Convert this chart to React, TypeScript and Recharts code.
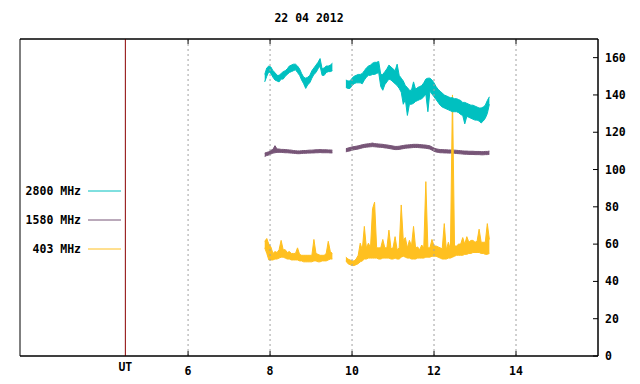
import { ComposedChart, Area, XAxis, YAxis, ReferenceLine, ReferenceArea } from 'recharts';

const FONT = '"DejaVu Sans Mono", "Liberation Mono", monospace';

const title = '22 04 2012';

// two observing runs, sampled every 0.05 h (UT)
const runStarts = [7.87, 9.85];
const sampleStep = 0.05;

const xDomain = [1.9, 16];
const yDomain = [0, 170];
const xTicks = [6, 8, 10, 12, 14];
const yTicks = [0, 20, 40, 60, 80, 100, 120, 140, 160];
const utMark = 4.47;

// each series: lower and upper edge of the noisy trace, per run

// 2800 MHz
const mhz2800loA = [
  147, 150, 152.5, 151.5, 149.5, 148, 147.5, 147, 148.5, 148.5,
  150, 151, 152, 152.5, 153, 153.5, 152, 150.5, 148, 146,
  143.5, 145.5, 146.5, 149, 151, 152, 154, 155.5, 150.5, 150.5,
  152, 152.5, 152.5, 153,
];
const mhz2800hiA = [
  151, 154.5, 155.5, 155, 153, 152, 150.5, 150.5, 151.5, 152.5,
  153, 154, 155.5, 156, 156.5, 156.5, 155.5, 154, 151.5, 149.5,
  149, 149.5, 150.5, 153, 154.5, 156, 157.5, 159.5, 154, 154.5,
  155.5, 155.5, 156, 157,
];
const mhz2800loB = [
  144, 143.5, 143.5, 145, 146, 146.5, 146.5, 146.5, 146, 148,
  149.5, 150.5, 150.5, 151, 151, 151.5, 152, 144.5, 142.5, 145.5,
  147, 148.5, 148, 147, 146, 145, 143.5, 141.5, 135, 137.5,
  129, 135, 135, 135.5, 136.5, 137, 137.5, 138, 139, 140.5,
  131, 142, 140.5, 139, 137.5, 136, 134.5, 133.5, 133, 132.5,
  132, 131.5, 131, 131, 131, 130.5, 129.5, 129, 124.5, 128.5,
  128, 127.5, 127, 126.5, 126.5, 126, 125, 126, 127.5, 130,
  135,
];
const mhz2800hiB = [
  148, 147.5, 147.5, 149, 150, 150.5, 151, 151, 151.5, 153,
  154.5, 155.5, 156, 157, 157.5, 157.5, 158, 151, 151, 152.5,
  154, 156, 155, 154, 153, 156.5, 150.5, 149, 147.5, 145,
  144, 142.5, 142.5, 147, 143, 144, 144.5, 145, 146.5, 148.5,
  149, 149, 148, 146.5, 144.5, 143, 142, 141, 140, 139.5,
  139, 138.5, 138.5, 138, 138, 137.5, 137, 136, 136, 135.5,
  135, 134.5, 134.5, 134, 133.5, 133, 133, 133.5, 134.5, 137,
  139,
];

// 1580 MHz
const mhz1580loA = [
  107, 107.5, 107.8, 108.3, 108.8, 109, 109.2, 109.2, 109.2, 109.1,
  109, 109, 108.9, 108.8, 108.7, 108.6, 108.5, 108.5, 108.6, 108.7,
  108.7, 108.8, 108.8, 108.9, 108.9, 109, 109, 109.1, 109, 109,
  109, 109, 108.9, 108.9,
];
const mhz1580hiA = [
  108.8, 109.2, 109.5, 110.3, 110.8, 112.8, 111, 111, 110.8, 110.8,
  110.7, 110.6, 110.5, 110.4, 110.2, 110.1, 110, 110, 110.1, 110.2,
  110.2, 110.3, 110.4, 110.4, 110.5, 110.6, 110.6, 110.7, 110.6, 110.6,
  110.6, 110.5, 110.5, 110.4,
];
const mhz1580loB = [
  109.5, 109.8, 110, 110.4, 110.6, 110.8, 111, 111.3, 111.6, 111.8,
  112, 112.1, 112.2, 112.3, 112.2, 112.1, 112, 111.9, 111.8, 111.6,
  111.5, 111.3, 111.1, 110.9, 110.7, 110.7, 110.8, 111, 111.2, 111.4,
  111.5, 111.6, 111.7, 111.8, 111.8, 111.8, 111.7, 111.6, 111.5, 111.4,
  111.2, 111, 110.4, 109.8, 109.4, 109.2, 109, 109, 108.9, 108.9,
  108.8, 108.8, 108.7, 108.7, 108.6, 108.5, 108.4, 108.3, 108.2, 108.2,
  108.1, 108.1, 108.1, 108, 108, 108, 107.9, 107.9, 108, 108,
  108.2,
];
const mhz1580hiB = [
  111.2, 111.5, 111.8, 112.1, 112.3, 112.5, 112.7, 113, 113.3, 113.5,
  113.7, 113.8, 114, 114.2, 113.9, 113.8, 113.7, 113.6, 113.5, 113.3,
  113.2, 113, 112.8, 112.6, 112.4, 112.4, 112.5, 112.7, 112.9, 113.1,
  113.2, 113.3, 113.4, 113.5, 113.5, 113.5, 113.4, 113.3, 113.2, 113.1,
  112.9, 112.7, 112.1, 111.5, 111.1, 110.9, 110.7, 110.7, 110.6, 110.6,
  110.5, 110.5, 110.4, 110.4, 110.3, 110.2, 110.1, 110, 109.9, 109.9,
  109.8, 109.8, 109.8, 109.7, 109.7, 109.7, 109.6, 109.6, 109.7, 109.7,
  109.9,
];

// 403 MHz
const mhz403loA = [
  58, 55, 51.5, 51.5, 51.5, 52, 52, 52.5, 53, 53,
  52.5, 52, 52, 51.5, 51.5, 51.5, 51.5, 51, 51, 50.5,
  50.5, 50.5, 50.5, 50.5, 51, 51, 50.5, 50.5, 51, 51,
  51, 51.5, 52, 52,
];
const mhz403hiA = [
  61.5, 63, 60, 58.5, 55, 56, 55.5, 57, 62, 57,
  57, 55.5, 56, 55, 55, 55, 58, 54.5, 54, 54,
  54, 54, 54, 54, 62.5, 55, 54.5, 54, 54, 54,
  55, 61.5, 56, 55,
];
const mhz403loB = [
  51, 49.5, 49, 48.5, 48.5, 49, 49.5, 50.5, 51, 52,
  52, 52.5, 52.5, 52.5, 52.5, 52.5, 52, 52, 52.5, 52.5,
  52.5, 52.5, 52, 52, 52.5, 52, 52, 53, 53.5, 53,
  52.5, 52.5, 52, 52, 52, 52.5, 52.5, 52.5, 52.5, 53,
  53, 53, 53.5, 53.5, 53.5, 53, 52.5, 52, 52, 52,
  52.5, 52.5, 53, 53.5, 54, 54, 54, 54, 54.5, 54.5,
  55, 55, 55.5, 55.5, 55.5, 55.5, 55, 55, 54.5, 54.5,
  55,
];
const mhz403hiB = [
  53, 52, 51.5, 51, 51, 52, 54, 60.5, 57, 69.5,
  58, 60.5, 58, 79, 82.5, 58, 58, 58, 62.5, 58,
  58, 67.5, 57.5, 58, 64, 57, 58, 81, 62, 63.5,
  58, 62, 59, 69.5, 58, 58.5, 57, 59.5, 58, 93.5,
  58, 58, 62.5, 59, 59, 58.5, 58, 57.5, 71, 57,
  61, 57, 140, 59, 59, 60, 60, 63.5, 60, 64,
  61, 62, 62, 61, 61.5, 68, 61, 61, 61, 71,
  62.5,
];

type Pt = { t: number; r: [number, number] };

function toPoints(run: number, lo: number[], hi: number[]): Pt[] {
  return lo.map((v, i) => ({
    t: +(runStarts[run] + i * sampleStep).toFixed(3),
    r: [v, hi[i]],
  }));
}

const series = [
  { name: '2800 MHz', color: '#00c0c0', runs: [toPoints(0, mhz2800loA, mhz2800hiA), toPoints(1, mhz2800loB, mhz2800hiB)] },
  { name: '1580 MHz', color: '#775577', runs: [toPoints(0, mhz1580loA, mhz1580hiA), toPoints(1, mhz1580loB, mhz1580hiB)] },
  { name: '403 MHz', color: '#ffc020', runs: [toPoints(0, mhz403loA, mhz403hiA), toPoints(1, mhz403loB, mhz403hiB)] },
];
// gnuplot-like stacking: 1580 first, then 403, 2800 on top
const drawOrder = [1, 2, 0];

const txt = { fontFamily: FONT, fontSize: 11.5, fontWeight: 'bold' as const, fill: '#000' };

function BottomTick({ x, y, payload }: any) {
  return (
    <g>
      <line x1={x} x2={x} y1={y} y2={y - 5} stroke="#000" />
      <text x={x} y={y + 19} textAnchor="middle" {...txt}>{payload.value}</text>
    </g>
  );
}

function TopTick({ x, y }: any) {
  return <line x1={x} x2={x} y1={y} y2={y + 5} stroke="#000" />;
}

function RightTick({ x, y, payload }: any) {
  return (
    <g>
      <line x1={x - 5} x2={x} y1={y} y2={y} stroke="#000" />
      <text x={x + 7} y={y + 4} textAnchor="start" {...txt}>{payload.value}</text>
    </g>
  );
}

function UtLabel({ viewBox }: any) {
  const { x, y, height } = viewBox;
  return <text x={x} y={y + height + 15} textAnchor="middle" {...txt}>UT</text>;
}

export default function App() {
  return (
    <div style={{ position: 'absolute', left: 0, top: 0, width: 640, height: 384, background: '#fff' }}>
      <ComposedChart width={640} height={384} margin={{ top: 38, right: 0, bottom: 0, left: 20 }}>
        <XAxis
          dataKey="t"
          type="number"
          domain={xDomain}
          ticks={xTicks}
          allowDataOverflow
          height={28}
          tickSize={0}
          tickMargin={0}
          tickLine={false}
          axisLine={{ stroke: '#000' }}
          tick={<BottomTick />}
        />
        <XAxis
          xAxisId="top"
          dataKey="t"
          orientation="top"
          type="number"
          domain={xDomain}
          ticks={xTicks}
          allowDataOverflow
          height={1}
          tickSize={0}
          tickMargin={0}
          tickLine={false}
          axisLine={{ stroke: '#000' }}
          tick={<TopTick />}
        />
        <YAxis
          yAxisId="right"
          orientation="right"
          type="number"
          domain={yDomain}
          ticks={yTicks}
          width={42}
          tickSize={0}
          tickMargin={0}
          tickLine={false}
          axisLine={{ stroke: '#000' }}
          tick={<RightTick />}
        />
        {xTicks.map((t) => (
          <ReferenceLine key={t} x={t} yAxisId="right" stroke="#a0a0a0" strokeDasharray="2 3" />
        ))}
        <ReferenceLine x={utMark} yAxisId="right" stroke="#8b0000" label={<UtLabel />} />
        <ReferenceArea
          x1={xDomain[0]}
          x2={xDomain[1]}
          y1={yDomain[0]}
          y2={yDomain[1]}
          yAxisId="right"
          fill="none"
          fillOpacity={0}
          stroke="#000"
          strokeOpacity={1}
        />
        {drawOrder.map((k) =>
          series[k].runs.map((run, r) => (
            <Area
              key={`${k}-${r}`}
              data={run}
              dataKey="r"
              xAxisId={k === 0 ? 'top' : 0}
              yAxisId="right"
              type="linear"
              stroke={series[k].color}
              strokeWidth={1}
              fill={series[k].color}
              fillOpacity={1}
              dot={false}
              activeDot={false}
              isAnimationActive={false}
            />
          ))
        )}
      </ComposedChart>

      {/* title + legend drawn over the chart */}
      <svg width={640} height={384} style={{ position: 'absolute', left: 0, top: 0, pointerEvents: 'none' }}>
        <text x={309} y={22} textAnchor="middle" {...txt}>{title}</text>
        {series.map((s, i) => (
          <g key={s.name}>
            <text x={81} y={191 + i * 29 + 4} textAnchor="end" {...txt}>{s.name}</text>
            <line x1={88} x2={121} y1={191 + i * 29} y2={191 + i * 29} stroke={s.color} />
          </g>
        ))}
      </svg>
    </div>
  );
}
